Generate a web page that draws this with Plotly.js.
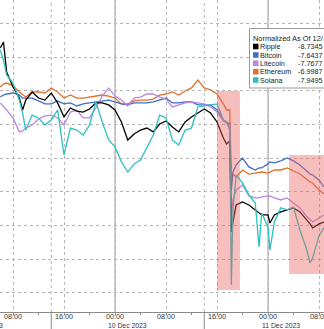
<!DOCTYPE html>
<html>
<head>
<meta charset="utf-8">
<script src="https://cdn.plot.ly/plotly-3.0.1.min.js"></script>
<style>
html,body{margin:0;padding:0;background:#fff;overflow:hidden;}
#chart{width:324px;height:329px;}
</style>
</head>
<body>
<div id="chart"></div>
<script>
// ---- data (normalized %) ----
const times = [
 "2023-12-09 06:00","2023-12-09 06:30","2023-12-09 07:00","2023-12-09 08:00","2023-12-09 09:00",
 "2023-12-09 09:30","2023-12-09 10:00","2023-12-09 11:00","2023-12-09 12:00","2023-12-09 13:00",
 "2023-12-09 14:00","2023-12-09 15:00","2023-12-09 16:00","2023-12-09 17:00","2023-12-09 18:00",
 "2023-12-09 19:00","2023-12-09 20:00","2023-12-09 21:00","2023-12-09 22:00","2023-12-09 23:00",
 "2023-12-10 00:00","2023-12-10 01:00","2023-12-10 02:00","2023-12-10 03:00","2023-12-10 04:00",
 "2023-12-10 05:00","2023-12-10 06:00","2023-12-10 07:00","2023-12-10 08:00","2023-12-10 09:00",
 "2023-12-10 10:00","2023-12-10 11:00","2023-12-10 12:00","2023-12-10 13:00","2023-12-10 14:00",
 "2023-12-10 15:00","2023-12-10 16:00","2023-12-10 17:00","2023-12-10 17:30","2023-12-10 18:00",
 "2023-12-10 18:15","2023-12-10 18:30","2023-12-10 19:00","2023-12-10 20:00","2023-12-10 21:00",
 "2023-12-10 22:00","2023-12-10 22:36","2023-12-10 23:00","2023-12-11 00:00","2023-12-11 00:18",
 "2023-12-11 01:00","2023-12-11 02:00","2023-12-11 03:00","2023-12-11 04:00","2023-12-11 05:00",
 "2023-12-11 06:00","2023-12-11 06:36","2023-12-11 07:00","2023-12-11 08:00","2023-12-11 08:45"
];
const ripple = [
 1.84, 2.20, 0.42, -0.47, -1.13, -1.84, -1.25, -0.77, -1.13, -1.25,
 -0.83, -1.42, -2.25, -1.72, -1.90, -1.96, -1.78, -1.42, -1.42, -1.54,
 -1.84, -2.55, -3.62, -3.26, -3.03, -2.91, -3.14, -2.67, -2.49, -2.85,
 -3.14, -2.55, -2.25, -2.02, -1.78, -2.02, -2.55, -3.50, -3.86, -3.68,
 -9.08, -8.49, -7.48, -7.30, -7.48, -7.77, -7.95, -8.07, -8.07, -8.55,
 -8.07, -7.89, -7.77, -7.65, -7.89, -8.31, -8.60, -8.84, -8.60, -8.49
];
const bitcoin = [
 -1.07, -0.95, -0.89, -0.83, -0.95, -1.13, -1.13, -1.13, -1.30, -1.48,
 -1.48, -1.30, -1.48, -1.42, -1.60, -1.48, -1.42, -1.36, -1.30, -1.25,
 -1.36, -1.48, -1.54, -1.42, -1.42, -1.42, -1.36, -1.25, -1.13, -1.42,
 -1.42, -1.36, -1.36, -1.54, -1.54, -1.54, -1.84, -2.43, -2.55, -2.67,
 -6.59, -5.52, -5.10, -4.69, -5.22, -5.40, -5.28, -5.28, -5.04, -4.92,
 -4.98, -4.86, -4.69, -4.86, -5.10, -5.46, -5.64, -5.70, -5.99, -6.41
];
const litecoin = [
 -1.42, -1.60, -1.84, -2.31, -3.14, -3.08, -2.91, -2.73, -2.37, -2.19,
 -2.14, -2.31, -2.73, -1.96, -1.84, -2.31, -2.31, -1.72, -1.01, -0.53,
 -1.01, -1.25, -1.60, -1.13, -1.07, -0.89, -0.89, -1.07, -1.19, -1.66,
 -1.54, -1.42, -1.36, -1.42, -1.48, -1.66, -1.96, -2.49, -2.61, -2.79,
 -8.07, -7.18, -6.59, -6.29, -6.94, -7.06, -7.06, -7.00, -6.94, -6.94,
 -7.06, -7.18, -7.06, -7.36, -7.65, -8.13, -8.37, -8.49, -8.25, -8.07
];
const ethereum = [
 -0.47, -0.30, -0.24, -0.41, -0.77, -0.95, -1.07, -0.77, -0.77, -0.83,
 -0.53, -0.77, -1.13, -0.95, -1.13, -1.13, -1.07, -1.01, -0.95, -1.01,
 -1.13, -1.48, -1.48, -1.30, -1.25, -1.25, -1.19, -0.95, -0.89, -0.77,
 -0.95, -0.71, -0.53, -0.06, -0.53, -0.65, -0.89, -1.48, -1.84, -1.84,
 -5.99, -5.64, -5.81, -5.40, -5.64, -5.58, -5.52, -5.52, -5.58, -5.52,
 -5.40, -5.40, -5.28, -5.46, -5.64, -5.93, -6.11, -6.17, -6.59, -6.82
];
const solana = [
 1.72, 1.13, 0.24, -0.24, -1.25, -2.02, -3.03, -2.14, -2.31, -2.73,
 -2.43, -1.84, -4.51, -2.91, -3.03, -3.32, -2.73, -1.36, -2.55, -3.62,
 -4.03, -4.92, -5.52, -5.04, -4.81, -4.09, -3.32, -2.14, -2.31, -3.62,
 -3.92, -3.03, -2.91, -1.66, -1.60, -1.54, -1.48, -2.43, -2.55, -3.03,
 -12.22, -7.77, -5.70, -6.17, -6.88, -7.36, -9.97, -7.95, -8.78, -10.15,
 -8.49, -7.65, -7.77, -7.60, -8.96, -10.03, -10.92, -10.62, -9.31, -8.84
];
const seriesNames = ["Ripple", "Bitcoin", "Litecoin", "Ethereum", "Solana"];
const legendValues = ["-8.7345", "-7.6437", "-7.7677", "-6.9987", "-7.9495"];
const tickVals = ["2023-12-09 08:00","2023-12-09 16:00","2023-12-10 00:00","2023-12-10 08:00",
                  "2023-12-10 16:00","2023-12-11 00:00","2023-12-11 08:00"];
const tickText = ["08:00","16:00","00:00","08:00","16:00","00:00","08:00"];
const dayLabels = ["9 Dec 2023", "10 Dec 2023", "11 Dec 2023"];
const legendTitle = "Normalized As Of 12/";

// ---- styling ----
const colors = {Ripple:"#000000", Bitcoin:"#3f6fc6", Litecoin:"#b986e2", Ethereum:"#e0702c", Solana:"#2cc0c0"};
const values = {Ripple:ripple, Bitcoin:bitcoin, Litecoin:litecoin, Ethereum:ethereum, Solana:solana};
const drawOrder = ["Ethereum", "Bitcoin", "Litecoin", "Ripple", "Solana"];
const FONT = "Liberation Sans, Arial, sans-serif";
const W = 324, PH = 312;
const px = v => v / W;
const py = v => 1 - v / PH;

const traces = drawOrder.map(n => ({
  type: "scatter", mode: "lines", name: n, x: times, y: values[n],
  line: {color: colors[n], width: 1.3}, hoverinfo: "skip"
}));

const shapes = [];
["2023-12-10 00:00", "2023-12-11 00:00"].forEach(t => shapes.push({
  type: "line", xref: "x", yref: "paper", x0: t, x1: t, y0: 0, y1: 1,
  line: {color: "#9a9a9a", width: 1}, layer: "below"
}));
["2023-12-09 14:00", "2023-12-10 14:00"].forEach(t => {
  shapes.push({type: "line", xref: "x", yref: "paper", x0: t, x1: t, y0: 0, y1: 1,
    line: {color: "#b5b5b5", width: 1, dash: "dot"}, layer: "below"});
});
[51.25, 204.25].forEach(x => shapes.push({
  type: "line", xref: "paper", yref: "paper", x0: px(x), x1: px(x), y0: 0, y1: -0.06,
  line: {color: "#8a8a8a", width: 1}
}));
shapes.push({type: "rect", xref: "x", yref: "y", x0: "2023-12-10 16:00", x1: "2023-12-10 19:36",
  y0: -12.52, y1: -0.71, fillcolor: "rgba(236,100,100,0.42)", line: {width: 0}, layer: "above"});
shapes.push({type: "rect", xref: "x", yref: "y", x0: "2023-12-11 03:18", x1: "2023-12-11 10:00",
  y0: -11.57, y1: -4.51, fillcolor: "rgba(236,100,100,0.42)", line: {width: 0}, layer: "above"});
shapes.push({type: "rect", xref: "paper", yref: "paper", x0: px(249.5), x1: px(340), y0: py(88), y1: py(28.5),
  fillcolor: "#ffffff", line: {color: "#9a9a9a", width: 1}, layer: "above"});

const annotations = [];
annotations.push({xref: "paper", yref: "paper", x: px(251), y: py(38.5), xanchor: "left", yanchor: "middle",
  text: legendTitle, showarrow: false, font: {family: FONT, size: 7.4, color: "#222"}});
const rowY = [46.5, 55, 63.3, 71.7, 80];
seriesNames.forEach((n, i) => {
  shapes.push({type: "rect", xref: "paper", yref: "paper", x0: px(253), x1: px(258.5),
    y0: py(rowY[i] + 2.8), y1: py(rowY[i] - 2.8), fillcolor: colors[n], line: {width: 0}, layer: "above"});
  annotations.push({xref: "paper", yref: "paper", x: px(258), y: py(rowY[i]), xanchor: "left", yanchor: "middle",
    text: n, showarrow: false, font: {family: FONT, size: 7.2, color: "#222"}});
  annotations.push({xref: "paper", yref: "paper", x: px(296), y: py(rowY[i]), xanchor: "left", yanchor: "middle",
    text: legendValues[i], showarrow: false, font: {family: FONT, size: 7.2, color: "#222"}});
});
// time tick labels
tickVals.forEach((t, i) => annotations.push({xref: "x", yref: "paper", x: t, y: py(316.5),
  xanchor: "center", yanchor: "middle", text: tickText[i], showarrow: false,
  font: {family: FONT, size: 7.2, color: "#333"}}));
// date row labels
annotations.push({xref: "paper", yref: "paper", x: px(4.5), y: py(325), xanchor: "right", yanchor: "middle",
  text: dayLabels[0], showarrow: false, font: {family: FONT, size: 6.8, color: "#333"}});
annotations.push({xref: "paper", yref: "paper", x: px(127.5), y: py(325), xanchor: "center", yanchor: "middle",
  text: dayLabels[1], showarrow: false, font: {family: FONT, size: 6.8, color: "#333"}});
annotations.push({xref: "paper", yref: "paper", x: px(280.5), y: py(325), xanchor: "center", yanchor: "middle",
  text: dayLabels[2], showarrow: false, font: {family: FONT, size: 6.8, color: "#333"}});

const layout = {
  width: 324, height: 329,
  margin: {l: 0, r: 0, t: 0, b: 17, pad: 0},
  paper_bgcolor: "#ffffff", plot_bgcolor: "#ffffff",
  showlegend: false,
  xaxis: {
    type: "date", range: ["2023-12-09 05:57:30", "2023-12-11 08:47"],
    tickmode: "array", tickvals: tickVals, ticktext: tickText, showticklabels: false,
    showgrid: true, gridcolor: "#b5b5b5", griddash: "dot", gridwidth: 1,
    ticks: "outside", ticklen: 2, tickcolor: "#8a8a8a",
    showline: true, linecolor: "#8a8a8a", linewidth: 1,
    minor: {dtick: 14400000, tick0: "2023-12-09 00:00", ticks: "outside", ticklen: 2, tickcolor: "#8a8a8a", showgrid: false},
    zeroline: false, fixedrange: true
  },
  yaxis: {
    range: [-13.83, 4.69], tick0: -6.7, dtick: 2,
    showgrid: true, gridcolor: "#b5b5b5", griddash: "dot", gridwidth: 1,
    showticklabels: false, ticks: "", zeroline: false, showline: false, fixedrange: true
  },
  shapes: shapes,
  annotations: annotations
};

Plotly.newPlot("chart", traces, layout, {staticPlot: true, displayModeBar: false});
</script>
</body>
</html>
